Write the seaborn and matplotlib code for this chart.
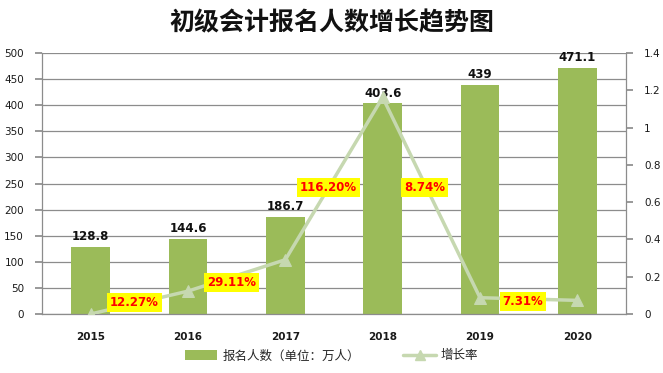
import matplotlib
matplotlib.use("Agg")
import matplotlib.pyplot as plt
import seaborn as sns
import numpy as np
import pandas as pd
from matplotlib.lines import Line2D
from matplotlib.patches import Patch

years = ["2015", "2016", "2017", "2018", "2019", "2020"]
applicants = [128.8, 144.6, 186.7, 403.6, 439, 471.1]
growth = [0.0, 0.1227, 0.2911, 1.162, 0.0874, 0.0731]
growth_labels = ["12.27%", "29.11%", "116.20%", "8.74%", "7.31%"]
label_pos_x = [0.45, 1.45, 2.44, 3.43, 4.44]
label_pos_y = [0.06, 0.17, 0.68, 0.68, 0.065]

sns.set_theme(style="white")
plt.rcParams['font.family'] = ['DejaVu Sans', 'Noto Sans CJK SC']
plt.rcParams['axes.unicode_minus'] = False
CJK = ['Noto Sans CJK SC', 'DejaVu Sans']

bar_color = "#9BBB59"
line_color = "#C6D8B0"
grid_color = "#8C8C8C"

fig = plt.figure(figsize=(6.63, 3.73), dpi=100)
ax = fig.add_axes([42/663, 1-314/373, 584/663, 261/373])

df = pd.DataFrame({"year": years, "n": applicants})
sns.barplot(data=df, x="year", y="n", color=bar_color, width=0.4, ax=ax, saturation=1, linewidth=0)
ax.set_ylim(0, 500)
ax.set_yticks(np.arange(0, 501, 50))
ax.set_xlim(-0.5, 5.5)
ax.set_xlabel("")
ax.set_ylabel("")
ax.yaxis.grid(True, color=grid_color, linewidth=0.9)
ax.set_axisbelow(True)
for s in ["top", "right"]:
    ax.spines[s].set_visible(False)
for s in ["left", "bottom"]:
    ax.spines[s].set_color(grid_color)
    ax.spines[s].set_linewidth(0.9)
ax.tick_params(axis="y", which="both", left=True, length=5, color=grid_color, labelsize=7.5, pad=8, labelcolor="#1a1a1a")
ax.tick_params(axis="x", bottom=False, labelsize=7.5, pad=7, labelcolor="#1a1a1a")
for lab in ax.get_xticklabels():
    lab.set_fontweight("bold")

for i, v in enumerate(applicants):
    ax.text(i, v + 7, f"{v:g}", ha="center", va="bottom", fontsize=8.5, fontweight="bold", color="#111111")

ax2 = ax.twinx()
ldf = pd.DataFrame({"x": np.arange(len(years)), "g": growth})
sns.lineplot(data=ldf, x="x", y="g", ax=ax2, color=line_color, linewidth=2.5,
             marker="^", markersize=8, markeredgecolor=line_color, markerfacecolor=line_color)
ax2.set_ylim(0, 1.4)
ax2.set_yticks(np.arange(0, 1.41, 0.2))
ax2.set_yticklabels(["0", "0.2", "0.4", "0.6", "0.8", "1", "1.2", "1.4"])
ax2.set_xlim(-0.5, 5.5)
ax2.set_xlabel("")
ax2.set_ylabel("")
for s in ["top", "left", "bottom"]:
    ax2.spines[s].set_visible(False)
ax2.spines["right"].set_color(grid_color)
ax2.spines["right"].set_linewidth(0.9)
ax2.tick_params(axis="y", right=True, length=5, color=grid_color, labelsize=7.5, pad=8, labelcolor="#1a1a1a")
ax2.grid(False)

for x, y, t in zip(label_pos_x, label_pos_y, growth_labels):
    ax2.text(x, y, t, ha="center", va="center", fontsize=8.5, fontweight="bold", color="#FF0000",
             bbox=dict(boxstyle="square,pad=0.25", facecolor="#FFFF00", edgecolor="none"))

fig.text(0.5, 1-23/373, "初级会计报名人数增长趋势图", ha="center", va="center", fontsize=18,
         fontweight="bold", color="#111111", family=CJK)

handles = [Patch(facecolor=bar_color, edgecolor="none"),
           Line2D([0], [0], color=line_color, linewidth=2.5, marker="^", markersize=7)]
fig.legend(handles, ["报名人数（单位：万人）", "增长率"], loc="center", bbox_to_anchor=(0.5, 1-356/373),
           ncol=2, frameon=False, prop={'family': CJK, 'size': 9}, columnspacing=3.5,
           handlelength=2.6, handleheight=0.8, handletextpad=0.4)

fig.savefig("out.png", dpi=100)
